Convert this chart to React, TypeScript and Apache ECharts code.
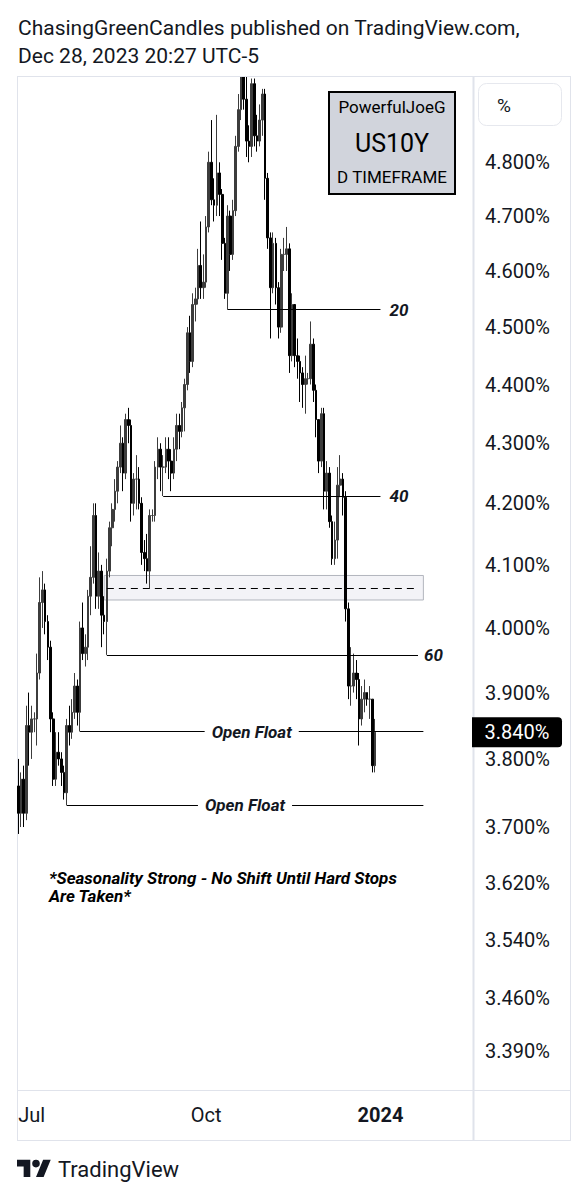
import React, { useEffect, useRef } from "react";
import * as echarts from "echarts";

// ---------- data ----------
const START_DATE = "2023-06-26";
const CATEGORY_COUNT = 170; // weekdays incl. future empty space
const MONTH_NAMES = ["Jan", "Feb", "Mar", "Apr", "May", "Jun", "Jul", "Aug", "Sep", "Oct", "Nov", "Dec"];

// rows: [open, high, low, close]
const junBars = [
  [3.76, 3.8, 3.69, 3.72], [3.72, 3.78, 3.7, 3.77], [3.77, 3.79, 3.7, 3.72], [3.72, 3.88, 3.71, 3.85], [3.85, 3.9, 3.79, 3.84],
];
const julBars = [
  [3.84, 3.88, 3.8, 3.86], [3.86, 3.87, 3.84, 3.86], [3.86, 3.96, 3.82, 3.93], [3.93, 4.08, 3.92, 4.04], [4.04, 4.09, 4.0, 4.06],
  [4.06, 4.07, 3.99, 4.01], [4.01, 4.02, 3.95, 3.97], [3.97, 3.98, 3.84, 3.86], [3.86, 3.87, 3.76, 3.77], [3.77, 3.84, 3.76, 3.81],
  [3.81, 3.84, 3.79, 3.8], [3.8, 3.81, 3.76, 3.78], [3.78, 3.79, 3.74, 3.75], [3.75, 3.86, 3.732, 3.85], [3.85, 3.88, 3.82, 3.84],
  [3.84, 3.89, 3.83, 3.87], [3.87, 3.93, 3.86, 3.91], [3.91, 3.92, 3.85, 3.87], [3.87, 4.01, 3.841, 4.0], [4.0, 4.04, 3.95, 3.96],
  [3.96, 3.99, 3.94, 3.97],
];
const augBars = [
  [3.97, 4.06, 3.95, 4.05], [4.05, 4.13, 4.02, 4.08], [4.08, 4.2, 4.07, 4.18], [4.18, 4.2, 4.03, 4.05],
  [4.05, 4.12, 4.03, 4.09], [4.09, 4.1, 3.97, 4.02], [4.02, 4.05, 3.99, 4.01], [4.01, 4.11, 3.958, 4.09], [4.09, 4.17, 4.08, 4.16],
  [4.16, 4.2, 4.13, 4.19], [4.19, 4.24, 4.17, 4.22], [4.22, 4.27, 4.2, 4.26], [4.26, 4.33, 4.25, 4.3], [4.3, 4.31, 4.22, 4.25],
  [4.25, 4.35, 4.24, 4.34], [4.34, 4.36, 4.3, 4.33], [4.33, 4.34, 4.17, 4.2], [4.2, 4.25, 4.18, 4.24], [4.24, 4.28, 4.19, 4.24],
  [4.24, 4.26, 4.19, 4.2], [4.2, 4.21, 4.1, 4.12], [4.12, 4.14, 4.09, 4.11], [4.11, 4.15, 4.07, 4.09],
];
const sepBars = [
  [4.09, 4.19, 4.063, 4.18],
  [4.18, 4.19, 4.17, 4.18], [4.18, 4.27, 4.17, 4.26], [4.26, 4.31, 4.24, 4.29], [4.29, 4.3, 4.22, 4.26], [4.26, 4.28, 4.212, 4.26],
  [4.26, 4.31, 4.25, 4.29], [4.29, 4.31, 4.24, 4.27], [4.27, 4.29, 4.22, 4.25], [4.25, 4.31, 4.24, 4.29], [4.29, 4.35, 4.27, 4.33],
  [4.33, 4.35, 4.29, 4.32], [4.32, 4.37, 4.31, 4.36], [4.36, 4.41, 4.32, 4.4], [4.4, 4.5, 4.39, 4.49], [4.49, 4.52, 4.42, 4.44],
  [4.44, 4.56, 4.43, 4.54], [4.54, 4.57, 4.51, 4.55], [4.55, 4.64, 4.54, 4.61], [4.61, 4.69, 4.55, 4.57], [4.57, 4.63, 4.55, 4.58],
];
const octBars = [
  [4.58, 4.7, 4.57, 4.68], [4.68, 4.82, 4.67, 4.8], [4.8, 4.88, 4.72, 4.73], [4.73, 4.77, 4.69, 4.72], [4.72, 4.89, 4.7, 4.78],
  [4.78, 4.8, 4.7, 4.74], [4.74, 4.75, 4.62, 4.65], [4.65, 4.66, 4.55, 4.56], [4.56, 4.72, 4.531, 4.7], [4.7, 4.71, 4.6, 4.63],
  [4.63, 4.73, 4.62, 4.71], [4.71, 4.85, 4.7, 4.83], [4.83, 4.93, 4.82, 4.9], [4.9, 5.0, 4.88, 4.99], [4.99, 5.0, 4.9, 4.92],
  [4.92, 5.02, 4.81, 4.84], [4.84, 4.87, 4.8, 4.83], [4.83, 4.96, 4.81, 4.95], [4.95, 4.96, 4.83, 4.85], [4.85, 4.89, 4.82, 4.84],
  [4.84, 4.91, 4.83, 4.88], [4.88, 4.94, 4.85, 4.93],
];
const novBars = [
  [4.93, 4.94, 4.73, 4.77], [4.77, 4.78, 4.64, 4.66], [4.66, 4.67, 4.48, 4.57],
  [4.57, 4.67, 4.56, 4.65], [4.65, 4.66, 4.54, 4.57], [4.57, 4.58, 4.48, 4.5], [4.5, 4.64, 4.49, 4.63], [4.63, 4.66, 4.6, 4.63],
  [4.63, 4.68, 4.6, 4.64], [4.64, 4.65, 4.42, 4.45], [4.45, 4.56, 4.44, 4.54], [4.54, 4.54, 4.43, 4.45], [4.45, 4.48, 4.41, 4.44],
  [4.44, 4.45, 4.37, 4.42], [4.42, 4.43, 4.36, 4.4], [4.4, 4.45, 4.35, 4.41], [4.41, 4.42, 4.4, 4.41], [4.41, 4.51, 4.4, 4.47],
  [4.47, 4.48, 4.37, 4.39], [4.39, 4.4, 4.31, 4.34], [4.34, 4.34, 4.25, 4.27], [4.27, 4.36, 4.26, 4.35],
];
const decBars = [
  [4.35, 4.36, 4.19, 4.22],
  [4.22, 4.27, 4.19, 4.25], [4.25, 4.26, 4.16, 4.17], [4.17, 4.18, 4.1, 4.11], [4.11, 4.17, 4.1, 4.14], [4.14, 4.26, 4.11, 4.23],
  [4.23, 4.28, 4.21, 4.24], [4.24, 4.25, 4.18, 4.21], [4.21, 4.22, 4.01, 4.03], [4.03, 4.04, 3.89, 3.91], [3.91, 3.97, 3.88, 3.91],
  [3.91, 3.96, 3.9, 3.93], [3.93, 3.95, 3.89, 3.92], [3.92, 3.93, 3.82, 3.86], [3.86, 3.91, 3.85, 3.89], [3.89, 3.92, 3.87, 3.9],
  [3.9, 3.9, 3.88, 3.89], [3.89, 3.91, 3.86, 3.89], [3.89, 3.89, 3.78, 3.79], [3.79, 3.86, 3.78, 3.84],
];

const yTicks = [4.8, 4.7, 4.6, 4.5, 4.4, 4.3, 4.2, 4.1, 4.0, 3.9, 3.8, 3.7, 3.62, 3.54, 3.46, 3.39];
const Y_MIN = 3.338;
const Y_MAX = 4.963;

// annotation levels drawn on the chart
const levelLines = [
  { text: "20", from: "2023-10-12", to: "2024-01-01", price: 4.531, pos: "end", dist: 9 },
  { text: "40", from: "2023-09-08", to: "2024-01-01", price: 4.212, pos: "end", dist: 9 },
  { text: "60", from: "2023-08-10", to: "2024-01-19", price: 3.958, pos: "end", dist: 6 },
  { text: "Open Float", from: "2023-07-27", to: "2024-01-23", price: 3.841, pos: "middle", dist: 0 },
  { text: "Open Float", from: "2023-07-20", to: "2024-01-23", price: 3.732, pos: "middle", dist: 0 },
];
const zoneBox = { from: "2023-08-09", to: "2024-01-23", top: 4.083, bottom: 4.044 };
const zoneMid = { from: "2023-08-10", to: "2024-01-19", price: 4.063 };

const titleLines = ["ChasingGreenCandles published on TradingView.com,", "Dec 28, 2023 20:27 UTC-5"];
const noteLines = ["*Seasonality Strong - No Shift Until Hard Stops", "Are Taken*"];
const infoLines = ["PowerfulJoeG", "US10Y", "D TIMEFRAME"];

// ---------- helpers ----------
function buildCategories(start: string, count: number): string[] {
  const out: string[] = [];
  const d = new Date(start + "T00:00:00Z");
  while (out.length < count) {
    const wd = d.getUTCDay();
    if (wd !== 0 && wd !== 6) out.push(d.toISOString().slice(0, 10));
    d.setUTCDate(d.getUTCDate() + 1);
  }
  return out;
}

const TV_LOGO_D =
  "M14 22H7V11H0V4h14v18z M28 22h-8l7.5-18h8L28 22z M24 8a4 4 0 1 1-8 0a4 4 0 1 1 8 0z";

let logoRegistered = false;

export default function App() {
  const ref = useRef<HTMLDivElement>(null);

  useEffect(() => {
    if (!ref.current) return;
    if (!logoRegistered) {
      echarts.graphic.registerShape("tvlogo", echarts.graphic.extendPath(TV_LOGO_D, {}) as any);
      logoRegistered = true;
    }
    const chart = echarts.init(ref.current, undefined, { renderer: "svg" });

    const cats = buildCategories(START_DATE, CATEGORY_COUNT);
    const rows = [...junBars, ...julBars, ...augBars, ...sepBars, ...octBars, ...novBars, ...decBars];
    const candles = rows.map((r) => [r[0], r[3], r[2], r[1]]);
    const lastClose = rows[rows.length - 1][3];

    const font = "Roboto";
    const ink = "#131722";
    const frame = "#e0e3eb";

    const lineLabelBase = {
      show: true,
      color: ink,
      fontFamily: font,
      fontSize: 17,
      fontStyle: "italic",
      fontWeight: "bold",
    };

    const markLineData: any[] = levelLines.map((l) => [
      {
        coord: [l.from, l.price],
        label:
          l.pos === "middle"
            ? {
                ...lineLabelBase,
                position: "middle",
                formatter: l.text,
                distance: 0,
                verticalAlign: "middle",
                backgroundColor: "#ffffff",
                padding: [2, 7],
              }
            : { ...lineLabelBase, position: "end", formatter: l.text, distance: l.dist },
      },
      { coord: [l.to, l.price] },
    ]);
    markLineData.push([
      {
        coord: [zoneMid.from, zoneMid.price],
        lineStyle: { type: [7, 5], color: "#000", width: 1 },
        label: { show: false },
      },
      { coord: [zoneMid.to, zoneMid.price] },
    ]);

    const graphics: any[] = [
      // white band above the plot hides candles that run past the top edge
      {
        id: "topCover",
        type: "rect",
        z: 50,
        shape: { x: 0, y: 0, width: 585, height: 76 },
        style: { fill: "#ffffff" },
      },
      // title
      ...titleLines.map((t, i) => ({
        id: "title" + i,
        type: "text",
        z: 60,
        x: 18,
        y: 28 + i * 28,
        style: { text: t, fill: ink, font: `21px ${font}`, textVerticalAlign: "middle" },
      })),
      // frame
      { id: "fTop", type: "line", z: 60, shape: { x1: 17, y1: 76.5, x2: 570, y2: 76.5 }, style: { stroke: frame, lineWidth: 1 } },
      { id: "fLeft", type: "line", shape: { x1: 17.5, y1: 76, x2: 17.5, y2: 1141 }, style: { stroke: frame, lineWidth: 1 } },
      { id: "fSep", type: "line", shape: { x1: 473.5, y1: 76, x2: 473.5, y2: 1141 }, style: { stroke: frame, lineWidth: 2 } },
      { id: "fRight", type: "line", shape: { x1: 570.5, y1: 76, x2: 570.5, y2: 1141 }, style: { stroke: frame, lineWidth: 1 } },
      { id: "fXSep", type: "line", shape: { x1: 17, y1: 1090.5, x2: 570, y2: 1090.5 }, style: { stroke: frame, lineWidth: 1 } },
      { id: "fBottom", type: "line", shape: { x1: 17, y1: 1140.5, x2: 570, y2: 1140.5 }, style: { stroke: frame, lineWidth: 1 } },
      // % box
      {
        id: "pctBox",
        type: "rect",
        shape: { x: 478.5, y: 83.5, width: 83, height: 42, r: 8 },
        style: { fill: "#fff", stroke: "#e6e8ee", lineWidth: 1 },
      },
      {
        id: "pctText",
        type: "text",
        x: 497,
        y: 105,
        style: { text: "%", fill: ink, font: `19px ${font}`, textVerticalAlign: "middle" },
      },
      // info box
      {
        id: "infoBox",
        type: "rect",
        shape: { x: 329, y: 92, width: 126, height: 102 },
        style: { fill: "#d1d4dc", stroke: "#000", lineWidth: 2 },
      },
      ...infoLines.map((t, i) => ({
        id: "info" + i,
        type: "text",
        x: 392,
        y: [107, 143, 177][i],
        style: {
          text: t,
          fill: "#000",
          font: `${i === 1 ? 25 : 17}px ${font}`,
          textAlign: "center",
          textVerticalAlign: "middle",
        },
      })),
      // note
      ...noteLines.map((t, i) => ({
        id: "note" + i,
        type: "text",
        x: 49,
        y: 878 + i * 18,
        style: {
          text: t,
          fill: "#000",
          font: `italic bold 17px ${font}`,
          textVerticalAlign: "middle",
        },
      })),
      // TradingView logo
      {
        id: "tvLogo",
        type: "tvlogo",
        x: 17,
        y: 1156,
        scaleX: 0.95,
        scaleY: 0.95,
        style: { fill: ink },
      },
      {
        id: "tvText",
        type: "text",
        x: 58,
        y: 1169,
        style: { text: "TradingView", fill: ink, font: `22px ${font}`, textVerticalAlign: "middle" },
      },
    ];

    const option: any = {
      animation: false,
      backgroundColor: "#ffffff",
      grid: { left: 17, right: 112, top: 77, bottom: 110, containLabel: false },
      xAxis: {
        type: "category",
        data: cats,
        boundaryGap: true,
        axisLine: { show: false },
        axisTick: { show: false },
        splitLine: { show: false },
        axisLabel: {
          margin: 15,
          fontSize: 20,
          fontFamily: font,
          color: ink,
          interval: (idx: number, val: string) => {
            if (idx === 0) return false;
            const m = val.slice(5, 7);
            const pm = cats[idx - 1].slice(5, 7);
            return m !== pm && (m === "07" || m === "10" || m === "01");
          },
          formatter: (val: string) => {
            const m = parseInt(val.slice(5, 7), 10);
            if (m === 1) return "{y|" + val.slice(0, 4) + "}";
            return MONTH_NAMES[m - 1];
          },
          rich: { y: { fontWeight: "bold", fontSize: 20, fontFamily: font, color: ink } },
        },
      },
      yAxis: {
        type: "log",
        logBase: 10,
        min: Y_MIN,
        max: Y_MAX,
        position: "right",
        axisLine: { show: false },
        axisTick: { show: false },
        splitLine: { show: false },
        axisLabel: {
          customValues: yTicks,
          formatter: (v: number) => v.toFixed(3) + "%",
          margin: 12,
          fontSize: 20,
          fontFamily: font,
          color: ink,
        },
      },
      series: [
        {
          type: "candlestick",
          data: candles,
          clip: true,
          barWidth: "80%",
          itemStyle: {
            color: "#3c3c3c",
            color0: "#000000",
            borderColor: "#3c3c3c",
            borderColor0: "#000000",
            borderWidth: 1,
          },
          markArea: {
            silent: true,
            itemStyle: { color: "#f3f3f7", borderColor: "#b2b5be", borderWidth: 1 },
            data: [[{ coord: [zoneBox.from, zoneBox.top] }, { coord: [zoneBox.to, zoneBox.bottom] }]],
          },
          markLine: {
            silent: true,
            symbol: ["none", "none"],
            lineStyle: { color: "#000", width: 1, type: "solid" },
            data: markLineData,
          },
        },
      ],
      graphic: graphics,
    };

    chart.setOption(option);

    const yPix = chart.convertToPixel({ yAxisIndex: 0 } as any, lastClose) as unknown as number;
    if (typeof yPix === "number" && isFinite(yPix)) {
      chart.setOption({
        graphic: [
          ...graphics,
          {
            id: "priceTag",
            type: "rect",
            shape: { x: 472, y: yPix - 15, width: 90, height: 30, r: [0, 4, 4, 0] },
            style: { fill: "#000" },
          },
          {
            id: "priceTagText",
            type: "text",
            x: 517,
            y: yPix,
            style: {
              text: lastClose.toFixed(3) + "%",
              fill: "#fff",
              font: `20px ${font}`,
              textAlign: "center",
              textVerticalAlign: "middle",
            },
          },
        ],
      });
    }

    return () => {
      chart.dispose();
    };
  }, []);

  return (
    <div
      ref={ref}
      style={{ position: "absolute", left: 0, top: 0, width: 585, height: 1200, background: "#fff" }}
    />
  );
}
